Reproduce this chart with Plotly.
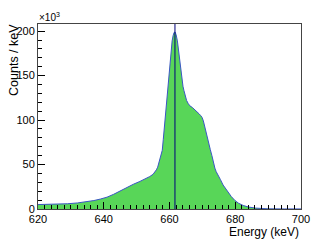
import plotly.graph_objects as go

# Energy (keV) sample points and counts per keV (in units of 10^3)
energy = [620, 623, 626, 629, 632, 635, 637, 639, 641, 643, 645, 647, 649, 651, 653, 654,
          655, 655.6, 656, 656.4, 656.7, 657, 657.3, 657.6, 657.8, 658.1, 658.5, 658.9,
          659.3, 659.7, 660, 660.4, 660.8, 661.1, 661.4, 661.7, 662, 662.4, 662.8, 663.2,
          663.7, 664.1, 664.4, 664.8, 665.2, 665.7, 666.2, 667, 668, 669, 669.5, 669.9,
          670.3, 670.6, 671.1, 671.5, 671.9, 672.4, 672.9, 673.3, 673.8, 674.2, 674.7,
          675.1, 675.5, 676.3, 677, 677.7, 678.8, 679.9, 681, 682.4, 684, 686.2, 688,
          690, 695, 700]
counts_k = [5.0, 5.1, 5.4, 5.9, 6.8, 8.2, 9.5, 11.2, 13.3, 16.5, 20.5, 24.5, 27.8, 31, 34.5, 36.5,
            39, 41.5, 44, 47, 51, 54.5, 58, 62, 66, 78, 94, 113,
            133, 148, 160, 176, 189, 195, 198.5, 199, 196, 189, 176, 162,
            148, 138, 133, 127, 122, 118.5, 116, 114, 111, 107, 105, 103,
            99, 94, 86, 80, 75, 67, 60, 53, 46, 42, 39,
            36, 33, 27, 23, 20, 14, 9.6, 6.5, 4.0, 2.2, 1.0, 0.4,
            0.2, 0.1, 0.1]
peak_energy = 661.66

x_ticks = [620, 640, 660, 680, 700]
y_ticks = [0, 50, 100, 150, 200]

FONT = "Liberation Sans, Arial, sans-serif"

fig = go.Figure()
fig.add_trace(go.Scatter(
    x=energy, y=counts_k, mode="lines", fill="tozeroy",
    fillcolor="#58d658", line=dict(color="#3a56c4", width=1),
    hoverinfo="skip", showlegend=False))

fig.add_shape(type="line", x0=peak_energy, x1=peak_energy, y0=0, y1=1,
              xref="x", yref="paper", line=dict(color="#00007a", width=1))

fig.update_layout(
    width=319, height=240,
    margin=dict(l=38, r=9, t=24, b=31),
    paper_bgcolor="white", plot_bgcolor="white",
    font=dict(family=FONT, size=11, color="black"),
    xaxis=dict(range=[620, 700], tickvals=x_ticks, ticks="inside", ticklen=7,
               tickcolor="black", showline=True, linecolor="#444", mirror=True,
               showgrid=False, zeroline=False, ticklabeloverflow="allow",
               minor=dict(dtick=2, ticks="inside", ticklen=4, tickcolor="black"),
               tickfont=dict(size=11)),
    yaxis=dict(range=[0, 208], tickvals=y_ticks, ticks="inside", ticklen=7,
               tickcolor="black", showline=True, linecolor="#444", mirror=True,
               showgrid=False, zeroline=False, ticklabeloverflow="allow",
               minor=dict(dtick=10, ticks="inside", ticklen=4, tickcolor="black"),
               tickfont=dict(size=11)),
    annotations=[
        dict(text="Energy (keV)", xref="paper", yref="paper", x=1.0, y=-0.075,
             xanchor="right", yanchor="top", showarrow=False,
             font=dict(size=12)),
        dict(text="Counts / keV", xref="paper", yref="paper", x=-0.092, y=1.01,
             xanchor="center", yanchor="top", textangle=-90, showarrow=False,
             font=dict(size=12.5)),
        dict(text="×10<sup>3</sup>", xref="paper", yref="paper", x=-0.005, y=0.995,
             xanchor="left", yanchor="bottom", showarrow=False,
             font=dict(size=10)),
    ],
)

fig.write_html("out.html", config={"displayModeBar": False},
               post_script="document.body.style.margin='0';document.body.style.padding='0';")
